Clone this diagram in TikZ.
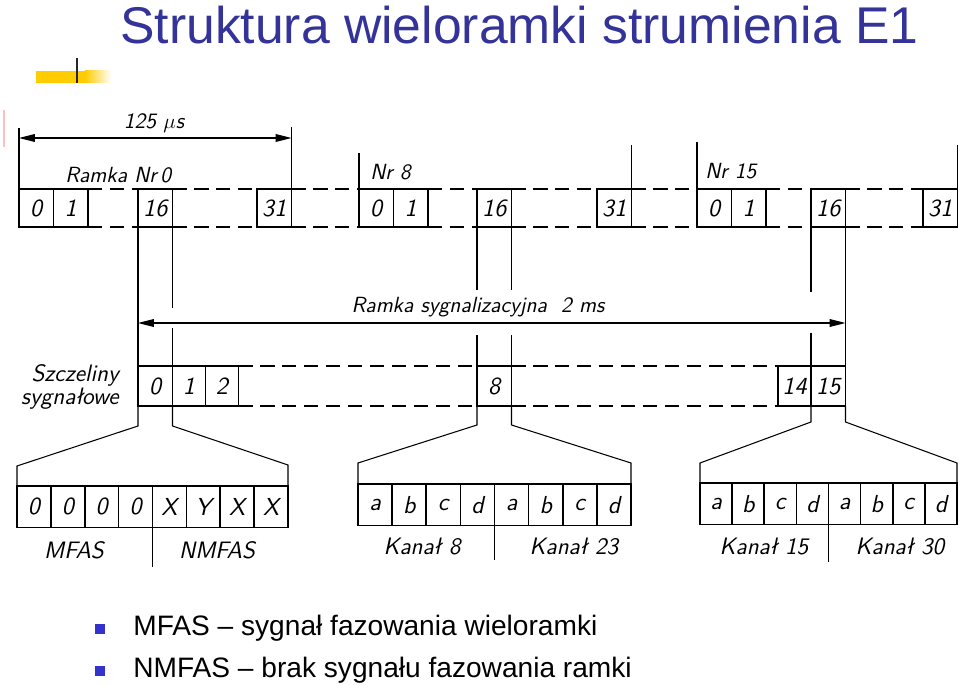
\documentclass[tikz,border=0pt]{standalone}
\usepackage{fontspec}
\setmainfont{Liberation Sans}
\usetikzlibrary{arrows.meta,calc}
\definecolor{headblue}{RGB}{51,51,153}
\definecolor{dotblue}{RGB}{51,51,204}
\definecolor{baryel}{RGB}{255,204,0}
\newcommand{\sketchfont}{\sffamily\itshape\fontsize{12.5}{12}\selectfont}
\newcommand{\cellfont}{\sffamily\itshape\fontsize{14}{14}\selectfont}
\newcommand{\bigsketch}{\sffamily\itshape\fontsize{13.5}{12}\selectfont}

\begin{document}
\begin{tikzpicture}[x=0.02cm, y=-0.02cm,
  cell/.style={draw, line width=0.9pt, inner sep=0pt, outer sep=0pt,
    anchor=north west, minimum width=#1*0.02cm, minimum height=0.76cm,
    font=\cellfont},
  slot/.style={cell=#1, minimum height=0.8cm},
  sub/.style={cell=#1, minimum height=0.83cm},
  gap/.style={line width=0.6pt, dash pattern=on 8pt off 4.5pt},
  wire/.style={line width=0.6pt},
  dim/.style={line width=0.6pt,
    {Triangle[length=9pt,width=4.4pt]}-{Triangle[length=9pt,width=4.4pt]}},
  lbl/.style={font=\sketchfont, inner sep=0pt},
  bot/.style={font=\bigsketch, inner sep=0pt},
  bul/.style={fill=dotblue, inner sep=0pt, minimum size=0.2cm},
  item/.style={anchor=base west, inner sep=0pt, font=\fontsize{16}{18}\selectfont},
]
\useasboundingbox (0,0) rectangle (960,686);
% heading
\node[anchor=base west, inner sep=0pt, text=headblue,
  font=\fontsize{29.4}{32}\selectfont] (head) at (120,44)
  {Struktura wieloramki strumienia E1};
\fill[baryel] (36,71) rectangle (86,83);
\shade[left color=baryel, right color=white] (85,71) rectangle (111,83);
\draw[line width=1.6pt, black!85] (77,58) -- (77,83);
\draw[line width=0.8pt, red!25] (4,110) -- (4,147);

% frames 0, 8, 15
\foreach \nm/\xa/\xb/\xc in {0/19/138/257, 8/359/477/597, 15/697/811/923} {
  \node[cell=34.5] (f\nm-0) at (\xa,189) {0};
  \node[cell=34.5] (f\nm-1) at (\xa+34.5,189) {1};
  \node[cell=34.5] (f\nm-16) at (\xb,189) {16};
  \node[cell=34.5] (f\nm-31) at (\xc,189) {31};
  \draw[gap] (f\nm-1.north east) -- (f\nm-16.north west)
    (f\nm-16.north east) -- (f\nm-31.north west);
  \draw[gap] (f\nm-1.south east) -- (f\nm-16.south west)
    (f\nm-16.south east) -- (f\nm-31.south west);
}
\draw[gap] (f0-31.north east) -- (f8-0.north west)
  (f0-31.south east) -- (f8-0.south west);
\draw[gap] (f8-31.north east) -- (f15-0.north west)
  (f8-31.south east) -- (f15-0.south west);
\draw[wire] (f0-0.north west) -- ++(0,-61);
\draw[wire] (f0-31.north east) -- ++(0,-62);
\draw[wire] (f8-0.north west) -- ++(0,-36);
\draw[wire] (f8-31.north east) -- ++(0,-44);
\draw[wire] (f15-0.north west) -- ++(0,-47);
\draw[wire] (f15-31.north east) -- ++(0,-44);
\node[lbl, anchor=west] (lr0) at (65,175) {Ramka Nr\,0};
\node[lbl, anchor=west] (lr8) at (370,172) {Nr 8};
\node[lbl, anchor=west] (lr15) at (705,171) {Nr 15};
% 125 us
\coordinate (t125) at (0,138);
\draw[dim] (f0-0.north west |- t125) -- (f0-31.north east |- t125);
\node[lbl] (l125) at (154,123) {125 $\mu$s};

% signalling slots
\node[slot=34.5] (s0) at (138,366) {0};
\node[slot=33] (s1) at (172.5,366) {1};
\node[slot=33] (s2) at (205.5,366) {2};
\node[slot=34.5] (s8) at (477,366) {8};
\node[slot=33] (s14) at (778,366) {14};
\node[slot=34.5] (s15) at (811,366) {15};
\draw[gap] (s2.north east) -- (s8.north west) (s2.south east) -- (s8.south west);
\draw[gap] (s8.north east) -- (s14.north west) (s8.south east) -- (s14.south west);
\node[bot, align=right, anchor=east] (slab) at (119,387) {Szczeliny\\sygnałowe};
% 2 ms
\coordinate (t2ms) at (0,323);
\draw[dim] (f0-16.south west |- t2ms) -- (f15-16.south east |- t2ms);
\node[lbl] (l2ms) at (478,307) {Ramka sygnalizacyjna \ 2 ms};
\draw[wire] (f0-16.south west) -- (s0.north west);
\draw[wire] (f0-16.south east) -- ++(0,81) (s0.north east) -- ++(0,-38);
\draw[wire] (f8-16.south west) -- ++(0,63) (s8.north west) -- ++(0,-31);
\draw[wire] (f8-16.south east) -- ++(0,63) (s8.north east) -- ++(0,-31);
\draw[wire] (f15-16.south west) -- ++(0,65) (s15.north west) -- ++(0,-33);
\draw[wire] (f15-16.south east) -- (s15.north east);

% expanded slots
\foreach \t [count=\i from 0] in {0,0,0,0,X,Y,X,X}
  \node[sub=33.875] (ga\i) at (17+\i*33.875,486) {\t};
\foreach \t [count=\i from 0] in {a,b,c,d,a,b,c,d} {
  \node[sub=34.125] (gb\i) at (358+\i*34.125,484) {\t};
  \node[sub=32.125] (gc\i) at (700+\i*32.125,483) {\t};
}
\draw[wire] (s0.south west) -- ++(0,20) -- ($(ga0.north west)+(0,-20)$) -- (ga0.north west);
\draw[wire] (s0.south east) -- ++(0,20) -- ($(ga7.north east)+(0,-21)$) -- (ga7.north east);
\draw[wire] (s8.south west) -- ++(0,19) -- ($(gb0.north west)+(0,-21)$) -- (gb0.north west);
\draw[wire] (s8.south east) -- ++(0,19) -- ($(gb7.north east)+(0,-21)$) -- (gb7.north east);
\draw[wire] (s15.south west) -- ++(0,16) -- ($(gc0.north west)+(0,-20)$) -- (gc0.north west);
\draw[wire] (s15.south east) -- ++(0,16) -- ($(gc7.north east)+(0,-20)$) -- (gc7.north east);
\draw[wire] (ga3.south east) -- ++(0,40);
\draw[wire] (gb3.south east) -- ++(0,35);
\draw[wire] (gc3.south east) -- ++(0,38);
\node[bot] (lmfas) at (74,550) {MFAS};
\node[bot] (lnmfas) at (217,550) {NMFAS};
\node[bot] (lk8) at (422,547) {Kanał 8};
\node[bot] (lk23) at (574,547) {Kanał 23};
\node[bot] (lk15) at (764,547) {Kanał 15};
\node[bot] (lk30) at (900,547) {Kanał 30};

% legend
\node[bul] (b1) at (100,629) {};
\node[bul] (b2) at (100,671) {};
\node[item] (i1) at (133,635) {MFAS – sygnał fazowania wieloramki};
\node[item] (i2) at (133,677) {NMFAS – brak sygnału fazowania ramki};
\end{tikzpicture}
\end{document}
